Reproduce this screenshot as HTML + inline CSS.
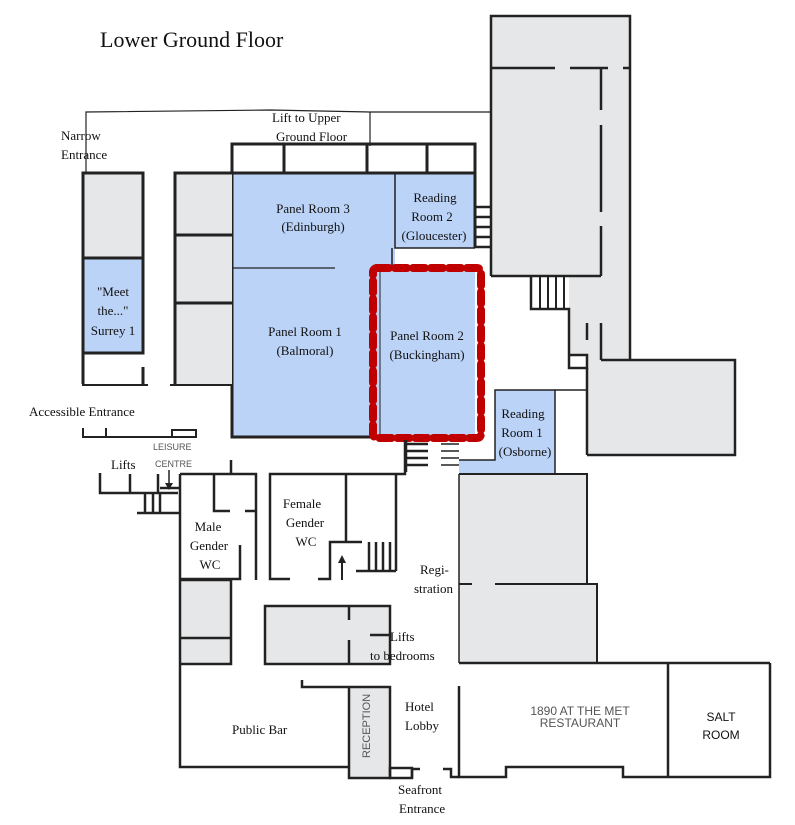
<!DOCTYPE html>
<html><head><meta charset="utf-8"><style>
html,body{margin:0;padding:0;background:#fff;}
svg{display:block;}
.s{font-family:"Liberation Serif",serif;font-size:13px;fill:#111;}
.ss{font-family:"Liberation Sans",sans-serif;fill:#555;}
</style></head><body>
<svg width="795" height="825" viewBox="0 0 795 825" xmlns="http://www.w3.org/2000/svg">
<text x="100" y="47" font-family="Liberation Serif,serif" font-size="22" fill="#111">Lower Ground Floor</text>

<polyline points="86,172 86,112 270,110 370,112 490,112" fill="none" stroke="#222" stroke-width="1.2"/>
<line x1="370" y1="112" x2="370" y2="146" stroke="#222" stroke-width="1.2"/>

<!-- big right grey building -->
<rect x="491" y="16" width="139" height="52" fill="#e6e7e8"/>
<rect x="491" y="68" width="110" height="208" fill="#e6e7e8"/>
<rect x="601" y="68" width="29" height="292" fill="#e6e7e8"/>
<rect x="569" y="276" width="61" height="92" fill="#e6e7e8"/>
<rect x="569" y="355" width="18" height="13" fill="#fff"/>
<rect x="587" y="360" width="148" height="96" fill="#e6e7e8"/>
<g stroke="#222" stroke-width="2.5" fill="none">
<polyline points="491,276 491,16 630,16 630,360"/>
<polyline points="491,276 601,276"/>
<line x1="601" y1="68" x2="601" y2="110"/><line x1="601" y1="125" x2="601" y2="212"/><line x1="601" y1="226" x2="601" y2="276"/>
<line x1="491" y1="68" x2="555" y2="68"/><line x1="570" y1="68" x2="608" y2="68"/><line x1="623" y1="68" x2="630" y2="68"/>
<polyline points="531,277 531,309 569,309 569,368 587,368 587,355 569,355"/>
<line x1="587" y1="368" x2="587" y2="455"/>
<polyline points="601,360 735,360 735,455 587,455"/>
<line x1="587" y1="323" x2="587" y2="340"/><line x1="601" y1="323" x2="601" y2="360"/>
</g>
<g stroke="#222" stroke-width="2">
<line x1="540" y1="277" x2="540" y2="309"/><line x1="548" y1="277" x2="548" y2="309"/><line x1="556" y1="277" x2="556" y2="309"/><line x1="564" y1="277" x2="564" y2="309"/>
</g>

<g stroke="#222" stroke-width="3" fill="none">
<rect x="232" y="144" width="243" height="29"/>
<line x1="284" y1="144" x2="284" y2="173"/><line x1="367" y1="144" x2="367" y2="173"/><line x1="427" y1="144" x2="427" y2="173"/>
</g>

<rect x="232" y="173" width="243" height="264" fill="#bcd3f8"/>
<rect x="395" y="248" width="80" height="20" fill="#fff"/>
<g stroke="#222" fill="none">
<polyline points="395,173 395,248 475,248" stroke-width="1.5"/>
<line x1="232" y1="268" x2="335" y2="268" stroke-width="1.2"/>
<line x1="392" y1="248" x2="392" y2="268" stroke-width="1.5"/>
<polyline points="378,437 232,437 232,173 475,173 475,248" stroke-width="3"/>
</g>
<g stroke="#222" stroke-width="2.5">
<line x1="475" y1="205" x2="475" y2="248"/>
<line x1="475" y1="207" x2="491" y2="207"/><line x1="475" y1="217" x2="491" y2="217"/><line x1="475" y1="227" x2="491" y2="227"/><line x1="475" y1="237" x2="491" y2="237"/><line x1="475" y1="247" x2="491" y2="247"/>
</g>
<rect x="373" y="268" width="108" height="170" rx="4" fill="none" stroke="#c00000" stroke-width="8" stroke-dasharray="12,6" stroke-linecap="round"/>
<line x1="380" y1="272" x2="380" y2="434" stroke="#222" stroke-width="1"/>

<rect x="83" y="173" width="60" height="85" fill="#e6e7e8"/>
<rect x="83" y="258" width="60" height="95" fill="#bcd3f8"/>
<rect x="175" y="173" width="57" height="211" fill="#e6e7e8"/>
<g stroke="#222" stroke-width="3" fill="none">
<polyline points="83,384 83,173 143,173 143,353 83,353"/>
<line x1="83" y1="258" x2="143" y2="258"/>
<line x1="143" y1="367" x2="143" y2="384"/>
<line x1="82" y1="385" x2="148" y2="385" stroke-width="2"/>
<polyline points="175,384 175,173 232,173"/>
<line x1="175" y1="235" x2="232" y2="235"/><line x1="175" y1="303" x2="232" y2="303"/>
<line x1="170" y1="385" x2="232" y2="385" stroke-width="2"/>
<polyline points="83,428 83,437 196,437" stroke-width="2"/>
<line x1="106" y1="428" x2="106" y2="437" stroke-width="2"/>
<rect x="172" y="430" width="24" height="7" stroke-width="2"/>
</g>

<g stroke="#222" stroke-width="2.5">
<line x1="406" y1="440" x2="406" y2="472"/>
<line x1="406" y1="444" x2="428" y2="444"/><line x1="406" y1="451" x2="428" y2="451"/><line x1="406" y1="458" x2="428" y2="458"/><line x1="406" y1="465" x2="428" y2="465"/>
<line x1="441" y1="444" x2="459" y2="444" stroke-width="1.5"/><line x1="441" y1="451" x2="459" y2="451" stroke-width="1.5"/><line x1="441" y1="458" x2="459" y2="458" stroke-width="1.5"/><line x1="441" y1="465" x2="459" y2="465" stroke-width="1.5"/>
</g>

<rect x="495" y="390" width="60" height="84" fill="#bcd3f8"/>
<rect x="459" y="460" width="96" height="14" fill="#bcd3f8"/>
<g stroke="#222" stroke-width="1.5" fill="none">
<polyline points="459,460 495,460 495,390 555,390 555,474"/>
<line x1="555" y1="390" x2="587" y2="390"/>
</g>

<rect x="459" y="474" width="128" height="110" fill="#e6e7e8"/>
<rect x="459" y="584" width="138" height="79" fill="#e6e7e8"/>
<g stroke="#222" stroke-width="2" fill="none">
<polyline points="459,474 587,474 587,584 597,584 597,663 459,663"/>
<line x1="459" y1="474" x2="459" y2="663" stroke-width="1.5"/>
<line x1="459" y1="584" x2="472" y2="584"/><line x1="495" y1="584" x2="587" y2="584"/>
</g>

<g stroke="#222" stroke-width="2.5" fill="none">
<line x1="459" y1="663" x2="770" y2="663"/>
<polyline points="459,686 459,777 506,777 506,767 623,767 623,777 770,777 770,663"/>
<line x1="668" y1="663" x2="668" y2="777"/>
</g>

<rect x="180" y="580" width="51" height="84" fill="#e6e7e8"/>
<rect x="265" y="606" width="125" height="58" fill="#e6e7e8"/>
<rect x="349" y="687" width="41" height="91" fill="#e6e7e8"/>
<g stroke="#222" stroke-width="2.5" fill="none">
<polyline points="100,473 100,493 178,493"/><line x1="130" y1="474" x2="130" y2="493"/><line x1="158" y1="474" x2="158" y2="493"/>
<polyline points="137,513 180,513"/><line x1="145" y1="494" x2="145" y2="513"/><line x1="153" y1="494" x2="153" y2="513"/><line x1="160" y1="494" x2="160" y2="513"/>
<line x1="160" y1="488" x2="180" y2="488"/>
<polyline points="180,474 256,474 256,580"/>
<line x1="231" y1="460" x2="231" y2="474"/>
<polyline points="214,474 214,511 230,511"/><line x1="245" y1="511" x2="256" y2="511"/>
<polyline points="240,545 240,579 180,579"/>
<polyline points="180,474 180,767 349,767"/>
<line x1="180" y1="638" x2="231" y2="638"/><polyline points="180,580 231,580 231,664 180,664"/>
<polyline points="290,579 270,579 270,474 405,474 405,440"/>
<polyline points="318,579 330,579 330,542 362,542"/>
<line x1="346" y1="474" x2="346" y2="542"/>
<line x1="396" y1="474" x2="396" y2="571"/>
<polyline points="356,571 396,571"/>
<line x1="369" y1="542" x2="369" y2="571"/><line x1="376" y1="542" x2="376" y2="571"/><line x1="383" y1="542" x2="383" y2="571"/><line x1="390" y1="542" x2="390" y2="571"/>
<rect x="265" y="606" width="125" height="58"/>
<line x1="349" y1="606" x2="349" y2="620"/><line x1="349" y1="640" x2="349" y2="664"/>
<polyline points="390,635 370,635"/>
<polyline points="302,680 302,687 390,687 390,778 349,778 349,687"/>
<rect x="390" y="768" width="22" height="10"/>
<polyline points="412,778 412,769 420,769"/>
<polyline points="443,769 451,769 451,777 459,777"/>
</g>
<line x1="342" y1="580" x2="342" y2="562" stroke="#222" stroke-width="2"/>
<polygon points="338,563 346,563 342,555" fill="#222"/>
<line x1="169" y1="470" x2="169" y2="486" stroke="#222" stroke-width="1.5"/>
<polygon points="165,483 173,483 169,490" fill="#222"/>

<text class="s" x="272" y="122">Lift to Upper</text>
<text class="s" x="276" y="141">Ground Floor</text>
<text class="s" x="61" y="140">Narrow</text>
<text class="s" x="61" y="159">Entrance</text>
<text class="s" text-anchor="middle" x="313" y="213">Panel Room 3</text>
<text class="s" text-anchor="middle" x="313" y="231">(Edinburgh)</text>
<text class="s" text-anchor="middle" x="435" y="202">Reading</text>
<text class="s" text-anchor="middle" x="432" y="221">Room 2</text>
<text class="s" text-anchor="middle" x="434" y="240">(Gloucester)</text>
<text class="s" text-anchor="middle" x="113" y="296">"Meet</text>
<text class="s" text-anchor="middle" x="113" y="315">the..."</text>
<text class="s" text-anchor="middle" x="113" y="335">Surrey 1</text>
<text class="s" text-anchor="middle" x="305" y="336">Panel Room 1</text>
<text class="s" text-anchor="middle" x="305" y="355">(Balmoral)</text>
<text class="s" text-anchor="middle" x="427" y="340">Panel Room 2</text>
<text class="s" text-anchor="middle" x="427" y="359">(Buckingham)</text>
<text class="s" text-anchor="middle" x="523" y="418">Reading</text>
<text class="s" text-anchor="middle" x="522" y="437">Room 1</text>
<text class="s" text-anchor="middle" x="525" y="456">(Osborne)</text>
<text class="s" x="29" y="416">Accessible Entrance</text>
<text class="ss" x="153" y="450" font-size="9">LEISURE</text>
<text class="ss" x="155" y="467" font-size="9">CENTRE</text>
<text class="s" x="111" y="469">Lifts</text>
<text class="s" text-anchor="middle" x="208" y="531">Male</text>
<text class="s" text-anchor="middle" x="209" y="550">Gender</text>
<text class="s" text-anchor="middle" x="210" y="569">WC</text>
<text class="s" text-anchor="middle" x="302" y="508">Female</text>
<text class="s" text-anchor="middle" x="305" y="527">Gender</text>
<text class="s" text-anchor="middle" x="306" y="546">WC</text>
<text class="s" x="420" y="574">Regi-</text>
<text class="s" x="414" y="593">stration</text>
<text class="s" x="390" y="641">Lifts</text>
<text class="s" x="370" y="660">to bedrooms</text>
<text class="s" x="232" y="734">Public Bar</text>
<text class="ss" x="0" y="0" font-size="11" transform="translate(370,758) rotate(-90)">RECEPTION</text>
<text class="s" x="405" y="711">Hotel</text>
<text class="s" x="405" y="730">Lobby</text>
<text class="s" x="398" y="794">Seafront</text>
<text class="s" x="399" y="813">Entrance</text>
<text class="ss" text-anchor="middle" x="580" y="715" font-size="12">1890 AT THE MET</text>
<text class="ss" text-anchor="middle" x="580" y="727" font-size="12">RESTAURANT</text>
<text class="ss" text-anchor="middle" x="721" y="721" font-size="12" style="fill:#111">SALT</text>
<text class="ss" text-anchor="middle" x="721" y="739" font-size="12" style="fill:#111">ROOM</text>
</svg>
</body></html>
